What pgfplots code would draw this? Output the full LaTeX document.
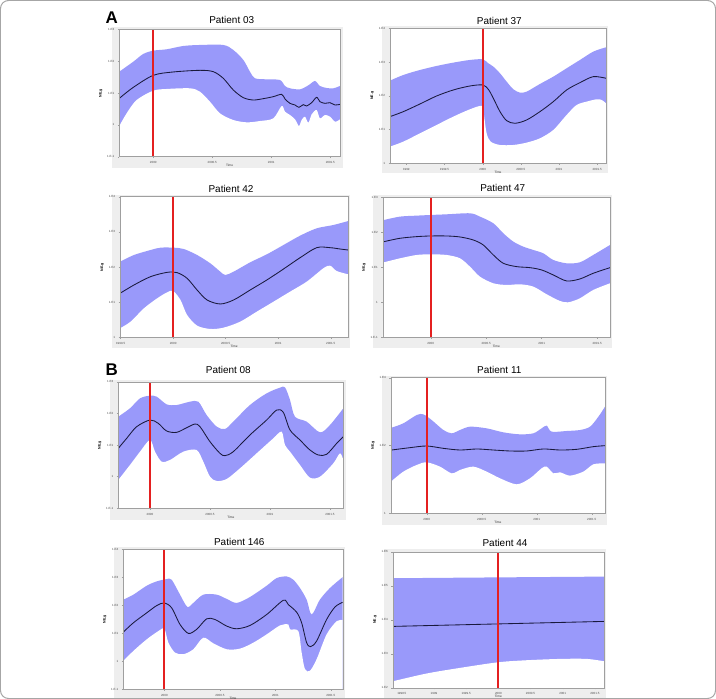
\documentclass[border=0pt]{standalone}
\usepackage{fontspec}
\setmainfont{Liberation Sans}
\usepackage{pgfplots}
\pgfplotsset{compat=1.18}

\definecolor{band}{RGB}{153,153,250}
\definecolor{meanline}{RGB}{25,25,60}
\definecolor{cutoff}{RGB}{228,32,32}
\definecolor{panelbg}{RGB}{238,238,238}

\pgfplotsset{
  skyline/.style={
    scale only axis, anchor=south west, clip=true, axis on top,
    axis background/.style={fill=white},
    axis line style={gray!75, line width=0.4bp},
    tick style={gray!75, line width=0.3bp},
    major tick length=1.5bp, tick align=outside,
    xtick pos=left, ytick pos=left,
    ticklabel style={font=\fontsize{3}{3}\selectfont, text=black!70},
    xlabel={Time}, ylabel={NE.g},
    xlabel style={font=\fontsize{3.2}{3.2}\selectfont, text=black!80,
      at={(axis description cs:0.5,0)}, anchor=north, yshift=-4.2bp},
    ylabel style={font=\fontsize{3.6}{3.6}\selectfont\bfseries, yshift=-2bp},
  },
  % upper HPD edge, filled down to the bottom of the axis
  upperband/.style={draw=none, fill=band, smooth, tension=0.5},
  % lower HPD edge, the region beneath it masked in white
  lowermask/.style={draw=none, fill=white, smooth, tension=0.5},
  meancurve/.style={meanline, line width=0.85bp, smooth, tension=0.5},
  cutline/.style={cutoff, line width=1.9bp},
}
\newcommand\toBottom{-- (rel axis cs:1,0) -- (rel axis cs:0,0) -- cycle}
\newcommand\paneltitle[3]{\node[font=\fontsize{10}{12}\selectfont] at (#1bp,#2bp) {#3};}

\begin{document}
\begin{tikzpicture}
\useasboundingbox (0,0) rectangle (716bp,699bp);
\fill[white] (0,0) rectangle (716bp,699bp);
\draw[gray!70, line width=1bp, rounded corners=8bp] (0.5bp,0.5bp) rectangle (715.5bp,698.5bp);

% light panel backgrounds
\fill[panelbg] (112bp,531bp) rectangle (343bp,672bp);
\fill[panelbg] (382bp,526bp) rectangle (608bp,673bp);
\fill[panelbg] (112bp,351bp) rectangle (350bp,504bp);
\fill[panelbg] (373bp,351bp) rectangle (612bp,504bp);
\fill[panelbg] (110bp,179bp) rectangle (346bp,319bp);
\fill[panelbg] (382bp,174bp) rectangle (607bp,323bp);
\fill[panelbg] (114bp,1.5bp) rectangle (345bp,152bp);
\fill[panelbg] (384bp,1.5bp) rectangle (606bp,150bp);

\node[font=\fontsize{17}{17}\selectfont\bfseries, anchor=base west] at (102bp,675bp) {A};
\node[font=\fontsize{17}{17}\selectfont\bfseries, anchor=base west] at (102bp,323bp) {B};

% ---------------- Patient 03 ----------------
\begin{axis}[skyline, at={(119.3bp,542.3bp)}, width=220.7bp, height=127.4bp,
  xmin=1999.712, xmax=2001.582, ymin=-1, ymax=3,
  xtick={2000,2000.5,2001,2001.5}, xticklabels={2000,2000.5,2001,2001.5},
  ytick={-1,0,1,2,3}, yticklabels={1.E-1,1,1.E1,1.E2,1.E3}]
\addplot[upperband] coordinates {(1999.712,1.670)(1999.831,1.984)(1999.915,2.225)(2000.000,2.330)(2000.113,2.372)(2000.254,2.476)(2000.395,2.508)(2000.593,2.508)(2000.678,2.351)(2000.763,2.037)(2000.819,1.670)(2000.862,1.461)(2000.960,1.429)(2001.073,1.408)(2001.116,1.220)(2001.158,1.147)(2001.243,1.115)(2001.314,1.241)(2001.370,1.377)(2001.412,1.220)(2001.469,1.157)(2001.525,1.147)(2001.582,1.220)} \toBottom;
\addplot[lowermask] coordinates {(1999.712,-0.037)(1999.774,0.361)(1999.859,0.780)(2000.000,1.073)(2000.113,1.126)(2000.311,1.147)(2000.395,1.042)(2000.480,0.728)(2000.565,0.361)(2000.678,0.152)(2000.791,0.079)(2000.904,0.120)(2001.017,0.204)(2001.088,0.592)(2001.116,0.414)(2001.158,0.309)(2001.201,0.173)(2001.234,-0.037)(2001.257,0.152)(2001.285,0.257)(2001.314,0.068)(2001.342,0.330)(2001.384,0.466)(2001.412,0.204)(2001.455,0.309)(2001.497,0.257)(2001.540,0.099)(2001.582,0.173)} \toBottom;
\addplot[meancurve] coordinates {(1999.712,0.832)(1999.831,1.178)(2000.000,1.555)(2000.169,1.660)(2000.395,1.712)(2000.508,1.670)(2000.593,1.461)(2000.678,1.094)(2000.763,0.853)(2000.847,0.780)(2000.932,0.822)(2001.017,0.885)(2001.088,0.958)(2001.116,0.812)(2001.158,0.675)(2001.201,0.623)(2001.234,0.550)(2001.271,0.634)(2001.299,0.592)(2001.342,0.696)(2001.384,0.864)(2001.412,0.728)(2001.455,0.675)(2001.497,0.696)(2001.540,0.623)(2001.582,0.644)};
\addplot[cutline] coordinates {(2000,-1)(2000,3)};
\end{axis}

% ---------------- Patient 37 ----------------
\begin{axis}[skyline, at={(390bp,535.7bp)}, width=216bp, height=135bp,
  xmin=1998.786, xmax=2001.616, ymin=0, ymax=4,
  xtick={1999,1999.5,2000,2000.5,2001,2001.5}, xticklabels={1999,1999.5,2000,2000.5,2001,2001.5},
  ytick={0,1,2,3,4}, yticklabels={1,1.E1,1.E2,1.E3,1.E4}]
\addplot[upperband] coordinates {(1998.786,2.449)(1998.961,2.617)(1999.179,2.765)(1999.397,2.884)(1999.616,2.983)(1999.834,3.062)(2000.000,3.081)(2000.074,2.963)(2000.140,2.864)(2000.227,2.667)(2000.314,2.420)(2000.402,2.193)(2000.489,2.094)(2000.576,2.123)(2000.751,2.351)(2000.926,2.568)(2001.100,2.815)(2001.275,3.062)(2001.450,3.309)(2001.616,3.437)} \toBottom;
\addplot[lowermask] coordinates {(1998.786,0.494)(1998.961,0.642)(1999.179,0.889)(1999.397,1.136)(1999.616,1.383)(1999.834,1.600)(1999.991,1.699)(2000.017,1.432)(2000.052,0.889)(2000.105,0.642)(2000.227,0.543)(2000.402,0.543)(2000.576,0.612)(2000.751,0.741)(2000.926,0.988)(2001.100,1.432)(2001.231,1.728)(2001.362,1.827)(2001.493,1.896)(2001.559,1.877)(2001.616,1.778)} \toBottom;
\addplot[meancurve] coordinates {(1998.786,1.383)(1998.961,1.531)(1999.179,1.758)(1999.397,1.995)(1999.616,2.173)(1999.834,2.291)(2000.000,2.321)(2000.074,2.193)(2000.140,1.926)(2000.227,1.531)(2000.314,1.264)(2000.424,1.185)(2000.576,1.284)(2000.751,1.531)(2000.926,1.827)(2001.100,2.173)(2001.275,2.390)(2001.450,2.568)(2001.616,2.519)};
\addplot[cutline] coordinates {(2000,0)(2000,4)};
\end{axis}

% ---------------- Patient 42 ----------------
\begin{axis}[skyline, at={(120bp,361.7bp)}, width=228.3bp, height=140.6bp,
  xmin=1999.494, xmax=2001.668, ymin=0, ymax=4,
  xtick={1999.5,2000,2000.5,2001,2001.5}, xticklabels={1999.5,2000,2000.5,2001,2001.5},
  ytick={0,1,2,3,4}, yticklabels={1,1.E1,1.E2,1.E3,1.E4}]
\addplot[upperband] coordinates {(1999.494,2.152)(1999.627,2.341)(1999.785,2.483)(1999.880,2.550)(2000.006,2.550)(2000.101,2.512)(2000.228,2.341)(2000.354,2.104)(2000.449,1.867)(2000.497,1.773)(2000.576,1.867)(2000.734,2.133)(2000.892,2.360)(2001.051,2.626)(2001.209,2.891)(2001.367,3.100)(2001.525,3.194)(2001.668,3.308)} \toBottom;
\addplot[lowermask] coordinates {(1999.494,0.256)(1999.595,0.445)(1999.722,0.825)(1999.848,1.109)(1999.943,1.280)(2000.000,1.318)(2000.070,1.062)(2000.133,0.635)(2000.228,0.332)(2000.354,0.237)(2000.481,0.275)(2000.639,0.445)(2000.797,0.730)(2000.956,1.014)(2001.114,1.299)(2001.272,1.583)(2001.430,1.962)(2001.494,2.038)(2001.557,1.886)(2001.668,1.791)} \toBottom;
\addplot[meancurve] coordinates {(1999.494,1.251)(1999.627,1.488)(1999.785,1.725)(1999.943,1.848)(2000.038,1.839)(2000.133,1.678)(2000.228,1.346)(2000.323,1.062)(2000.449,0.948)(2000.576,1.062)(2000.734,1.346)(2000.892,1.630)(2001.051,1.943)(2001.209,2.265)(2001.367,2.550)(2001.494,2.550)(2001.589,2.512)(2001.668,2.483)};
\addplot[cutline] coordinates {(2000,0)(2000,4)};
\end{axis}

% ---------------- Patient 47 ----------------
\begin{axis}[skyline, at={(382.7bp,361.7bp)}, width=227.3bp, height=140bp,
  xmin=1999.568, xmax=2001.616, ymin=-1, ymax=3,
  xtick={2000,2000.5,2001,2001.5}, xticklabels={2000,2000.5,2001,2001.5},
  ytick={-1,0,1,2,3}, yticklabels={1.E-1,1,1.E1,1.E2,1.E3}]
\addplot[upperband] coordinates {(1999.580,2.352)(1999.724,2.448)(1999.874,2.476)(2000.000,2.495)(2000.144,2.514)(2000.354,2.543)(2000.444,2.448)(2000.565,2.257)(2000.655,1.971)(2000.745,1.733)(2000.835,1.590)(2000.925,1.495)(2001.015,1.400)(2001.105,1.210)(2001.225,1.114)(2001.345,1.143)(2001.465,1.352)(2001.616,1.638)} -- (axis cs:2001.616,-1) -- (axis cs:1999.580,-1) -- cycle;
\addplot[lowermask] coordinates {(1999.580,1.143)(1999.724,1.257)(1999.874,1.352)(2000.000,1.371)(2000.144,1.352)(2000.264,1.257)(2000.354,1.019)(2000.444,0.733)(2000.565,0.543)(2000.685,0.495)(2000.805,0.514)(2000.925,0.448)(2001.045,0.229)(2001.165,0.038)(2001.240,0.000)(2001.345,0.114)(2001.465,0.352)(2001.616,0.543)} \toBottom;
\addplot[meancurve] coordinates {(1999.580,1.733)(1999.724,1.829)(1999.874,1.876)(2000.000,1.895)(2000.144,1.895)(2000.264,1.867)(2000.384,1.781)(2000.474,1.638)(2000.565,1.352)(2000.655,1.114)(2000.775,1.019)(2000.895,0.990)(2001.000,0.924)(2001.105,0.781)(2001.225,0.610)(2001.345,0.667)(2001.465,0.829)(2001.616,0.990)};
\addplot[cutline] coordinates {(2000,-1)(2000,3)};
\end{axis}

% ---------------- Patient 08 ----------------
\begin{axis}[skyline, at={(118.3bp,190.7bp)}, width=225bp, height=126.6bp,
  xmin=1999.736, xmax=2001.611, ymin=-1, ymax=3,
  xtick={2000,2000.5,2001,2001.5}, xticklabels={2000,2000.5,2001,2001.5},
  ytick={-1,0,1,2,3}, yticklabels={1.E-1,1,1.E1,1.E2,1.E3}]
\addplot[upperband] coordinates {(1999.736,1.895)(1999.833,2.158)(1999.917,2.474)(2000.000,2.558)(2000.056,2.526)(2000.139,2.284)(2000.222,2.263)(2000.333,2.368)(2000.403,2.368)(2000.472,1.947)(2000.556,1.579)(2000.625,1.505)(2000.694,1.737)(2000.833,2.263)(2000.972,2.632)(2001.083,2.811)(2001.125,2.821)(2001.167,2.421)(2001.208,1.895)(2001.306,1.737)(2001.417,1.400)(2001.500,1.632)(2001.611,2.158)} \toBottom;
\addplot[lowermask] coordinates {(1999.736,-0.105)(1999.833,0.368)(1999.917,0.789)(2000.000,1.158)(2000.042,0.789)(2000.097,0.474)(2000.167,0.526)(2000.278,0.789)(2000.389,0.842)(2000.444,0.474)(2000.500,0.000)(2000.556,-0.137)(2000.639,-0.074)(2000.750,0.263)(2000.889,0.737)(2001.028,1.211)(2001.097,1.421)(2001.125,1.000)(2001.167,0.789)(2001.250,0.368)(2001.333,-0.032)(2001.417,0.000)(2001.528,0.421)(2001.583,0.737)(2001.611,0.526)} \toBottom;
\addplot[meancurve] coordinates {(1999.736,0.895)(1999.806,1.211)(1999.889,1.579)(2000.000,1.789)(2000.069,1.684)(2000.139,1.442)(2000.222,1.400)(2000.306,1.547)(2000.375,1.663)(2000.417,1.579)(2000.500,1.105)(2000.583,0.737)(2000.625,0.663)(2000.694,0.789)(2000.833,1.316)(2000.972,1.789)(2001.056,2.105)(2001.111,2.032)(2001.167,1.474)(2001.250,1.158)(2001.333,0.842)(2001.403,0.684)(2001.472,0.705)(2001.556,1.053)(2001.611,1.263)};
\addplot[cutline] coordinates {(2000,-1)(2000,3)};
\end{axis}

% ---------------- Patient 11 ----------------
\begin{axis}[skyline, at={(390.7bp,185.7bp)}, width=214.3bp, height=135.6bp,
  xmin=1999.673, xmax=2001.621, ymin=0, ymax=4,
  xtick={2000,2000.5,2001,2001.5}, xticklabels={2000,2000.5,2001,2001.5},
  ytick={0,2,4}, yticklabels={1,1.E2,1.E4}]
\addplot[upperband] coordinates {(1999.682,2.526)(1999.788,2.654)(1999.909,2.899)(1999.970,2.919)(2000.045,2.752)(2000.152,2.457)(2000.227,2.359)(2000.303,2.457)(2000.394,2.555)(2000.545,2.506)(2000.697,2.388)(2000.848,2.329)(2000.970,2.359)(2001.045,2.506)(2001.091,2.585)(2001.136,2.408)(2001.273,2.428)(2001.394,2.457)(2001.485,2.555)(2001.561,2.850)(2001.621,3.145)} -- (axis cs:2001.621,0) -- (axis cs:1999.682,0) -- cycle;
\addplot[lowermask] coordinates {(1999.682,0.953)(1999.788,1.229)(1999.909,1.425)(2000.000,1.504)(2000.121,1.376)(2000.227,1.179)(2000.303,1.278)(2000.424,1.376)(2000.545,1.229)(2000.667,1.032)(2000.818,0.855)(2000.939,1.032)(2001.045,1.327)(2001.091,1.376)(2001.152,1.179)(2001.212,1.209)(2001.303,1.111)(2001.424,1.229)(2001.515,1.445)(2001.621,1.474)} \toBottom;
\addplot[meancurve] coordinates {(1999.682,1.867)(1999.848,1.936)(2000.000,1.985)(2000.152,1.916)(2000.303,1.867)(2000.455,1.897)(2000.606,1.867)(2000.758,1.838)(2000.909,1.838)(2001.061,1.897)(2001.212,1.867)(2001.364,1.887)(2001.515,1.966)(2001.621,1.995)};
\addplot[cutline] coordinates {(2000,0)(2000,4)};
\end{axis}

% ---------------- Patient 146 ----------------
\begin{axis}[skyline, at={(123.3bp,10bp)}, width=219.4bp, height=139.7bp,
  xmin=1999.63, xmax=2001.607, ymin=-1, ymax=4,
  xtick={2000,2000.5,2001,2001.5}, xticklabels={2000,2000.5,2001,2001.5},
  ytick={-1,0,1,2,3,4}, yticklabels={1.E-1,1,1.E1,1.E2,1.E3,1.E4}]
\addplot[upperband] coordinates {(1999.631,2.199)(1999.721,2.377)(1999.841,2.697)(1999.931,2.851)(2000.021,2.934)(2000.066,2.910)(2000.141,2.377)(2000.207,1.938)(2000.261,2.081)(2000.351,2.377)(2000.471,2.377)(2000.562,2.223)(2000.652,2.081)(2000.772,2.294)(2000.922,2.697)(2001.012,2.969)(2001.102,3.028)(2001.162,2.910)(2001.222,2.614)(2001.282,2.199)(2001.327,1.666)(2001.402,2.199)(2001.492,2.614)(2001.607,3.005)} \toBottom;
\addplot[lowermask] coordinates {(1999.631,0.007)(1999.721,0.363)(1999.841,0.777)(1999.946,1.073)(2000.000,1.156)(2000.036,0.659)(2000.096,0.303)(2000.171,0.244)(2000.261,0.422)(2000.351,0.836)(2000.441,0.635)(2000.562,0.422)(2000.682,0.445)(2000.802,0.659)(2000.922,0.955)(2001.042,1.275)(2001.117,1.310)(2001.132,1.133)(2001.207,1.073)(2001.237,0.303)(2001.267,-0.289)(2001.312,-0.348)(2001.372,0.066)(2001.462,0.955)(2001.553,1.429)(2001.607,1.464)} \toBottom;
\addplot[meancurve] coordinates {(1999.631,1.038)(1999.721,1.370)(1999.841,1.725)(1999.931,1.986)(2000.000,2.081)(2000.066,1.903)(2000.141,1.310)(2000.216,0.991)(2000.291,1.133)(2000.381,1.512)(2000.456,1.488)(2000.562,1.251)(2000.652,1.156)(2000.772,1.275)(2000.922,1.666)(2001.072,2.175)(2001.117,2.021)(2001.192,1.749)(2001.237,1.370)(2001.282,0.659)(2001.318,0.517)(2001.372,0.718)(2001.462,1.488)(2001.538,1.938)(2001.607,2.104)};
\addplot[cutline] coordinates {(2000,-1)(2000,4)};
\end{axis}

% ---------------- Patient 44 ----------------
\begin{axis}[skyline, at={(392.7bp,11.2bp)}, width=211.3bp, height=136.1bp,
  xmin=1998.358, xmax=2001.642, ymin=2, ymax=6,
  xtick={1998.5,1999,1999.5,2000,2000.5,2001,2001.5}, xticklabels={1998.5,1999,1999.5,2000,2000.5,2001,2001.5},
  ytick={2,3,4,5,6}, yticklabels={1.E2,1.E3,1.E4,1.E5,1.E6}]
\addplot[upperband] coordinates {(1998.368,5.220)(2000.000,5.245)(2001.642,5.268)} -- (axis cs:2001.642,2) -- (axis cs:1998.368,2) -- cycle;
\addplot[lowermask] coordinates {(1998.368,2.195)(1998.886,2.420)(1999.404,2.585)(2000.000,2.751)(2000.440,2.810)(2000.959,2.849)(2001.373,2.849)(2001.642,2.780)} \toBottom;
\addplot[meancurve] coordinates {(1998.368,3.805)(2001.642,3.951)};
\addplot[cutline] coordinates {(2000,2)(2000,6)};
\end{axis}

\paneltitle{231.7}{679}{Patient 03}
\paneltitle{499.3}{678}{Patient 37}
\paneltitle{231}{510}{Patient 42}
\paneltitle{502.7}{510.7}{Patient 47}
\paneltitle{228.3}{329}{Patient 08}
\paneltitle{499.3}{329}{Patient 11}
\paneltitle{239.3}{157.3}{Patient 146}
\paneltitle{505}{156.3}{Patient 44}
\end{tikzpicture}
\end{document}
